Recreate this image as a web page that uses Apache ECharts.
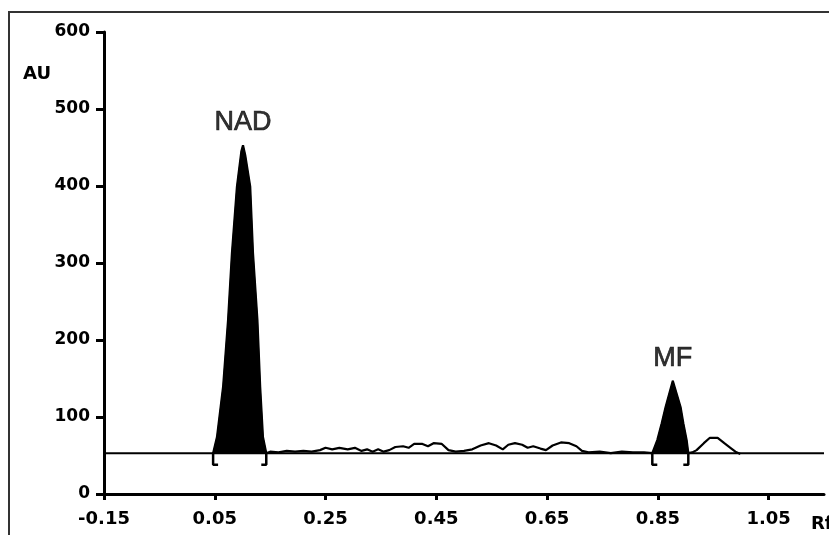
<!DOCTYPE html>
<html><head><meta charset="utf-8">
<script src="https://cdn.jsdelivr.net/npm/echarts@6/dist/echarts.min.js"></script>
<style>html,body{margin:0;padding:0;background:#fff}#c{width:829px;height:535px}</style>
</head><body><div id="c"></div>
<script>
// ---- data ----
const xTickValues = [-0.15, 0.05, 0.25, 0.45, 0.65, 0.85, 1.05];
const yTickValues = [0, 100, 200, 300, 400, 500, 600];
const baselineAU = 53;
const baselineRf = [-0.15, 1.15];

const nadRf = [0.047, 0.054, 0.065, 0.074, 0.081, 0.090, 0.098, 0.101, 0.105, 0.114, 0.119, 0.127, 0.132, 0.137, 0.143];
const nadAU = [53, 74, 139, 226, 313, 399, 445, 453, 440, 399, 313, 226, 139, 74, 53];

const noiseRf = [0.150, 0.165, 0.180, 0.195, 0.210, 0.225, 0.240, 0.250, 0.262, 0.275, 0.290, 0.303, 0.315, 0.325, 0.335, 0.345, 0.355, 0.365, 0.376, 0.390, 0.400, 0.410, 0.425, 0.435, 0.445, 0.460, 0.472, 0.485, 0.500, 0.515, 0.530, 0.545, 0.558, 0.570, 0.580, 0.592, 0.605, 0.615, 0.625, 0.638, 0.648, 0.660, 0.675, 0.690, 0.703, 0.713, 0.725, 0.745, 0.765, 0.785, 0.805, 0.825];
const noiseAU = [55, 54, 56, 55, 56, 55, 57, 60, 58, 60, 58, 60, 56, 58, 55, 58, 55, 57, 61, 62, 60, 65, 65, 62, 66, 65, 57, 55, 56, 58, 63, 66, 63, 58, 64, 66, 64, 60, 62, 59, 57, 63, 67, 66, 62, 56, 54, 55, 53, 55, 54, 54];

const mfRf = [0.840, 0.849, 0.857, 0.864, 0.877, 0.891, 0.896, 0.902, 0.905];
const mfAU = [53, 70, 92, 113, 147, 113, 92, 70, 53];

const minorRf = [0.912, 0.920, 0.933, 0.944, 0.958, 0.970, 0.981, 0.990, 0.999];
const minorAU = [54, 57, 66, 73, 73, 66, 60, 55, 52];

const peakNames = ['NAD', 'MF'];

// ---- build ----
const zip = (a, b) => a.map((v, i) => [v, b[i]]);
const traceData = zip(nadRf.concat(noiseRf, mfRf, minorRf), nadAU.concat(noiseAU, mfAU, minorAU));
function apex(rf, au) { let k = 0; au.forEach((v, i) => { if (v > au[k]) k = i; }); return [rf[k], au[k]]; }
const peaks = [apex(nadRf, nadAU), apex(mfRf, mfAU)];
const bracketLow = 38, foot = 0.009;
function bracket(rf, dir) { return [[rf, baselineAU], [rf, bracketLow], [rf + dir * foot, bracketLow]]; }
const brackets = [
  bracket(nadRf[0], 1), bracket(nadRf[nadRf.length - 1], -1),
  bracket(mfRf[0], 1), bracket(mfRf[mfRf.length - 1], -1)
];

const tickFont = { fontFamily: 'DejaVu Sans', fontWeight: 'bold', fontSize: 17, color: '#000' };
const series = [
  { type: 'line', data: baselineRf.map(r => [r, baselineAU]), symbol: 'none', lineStyle: { color: '#000', width: 2 }, silent: true, z: 2 },
  { type: 'line', data: zip(nadRf, nadAU), symbol: 'none', lineStyle: { color: '#000', width: 1 }, areaStyle: { color: '#000', opacity: 1, origin: baselineAU }, z: 3 },
  { type: 'line', data: zip(mfRf, mfAU), symbol: 'none', lineStyle: { color: '#000', width: 1 }, areaStyle: { color: '#000', opacity: 1, origin: baselineAU }, z: 3 },
  { type: 'line', data: traceData, symbol: 'none', lineStyle: { color: '#000', width: 2.2 }, z: 4 },
  { type: 'scatter', data: peaks.map((p, i) => ({ value: p, name: peakNames[i] })), symbolSize: 0,
    label: { show: true, position: 'top', distance: 9, formatter: p => p.name, fontFamily: 'Liberation Sans', fontSize: 27,
      color: '#000', textBorderColor: '#000', textBorderWidth: 0.7 }, z: 5 }
].concat(brackets.map(b => ({ type: 'line', data: b, symbol: 'none', lineStyle: { color: '#000', width: 2.5 }, z: 4 })));

const chart = echarts.init(document.getElementById('c'), null, { renderer: 'canvas' });
chart.setOption({
  animation: false,
  backgroundColor: '#fff',
  grid: { left: 104, right: 5, top: 32, bottom: 41, containLabel: false },
  xAxis: {
    type: 'value', min: -0.15, max: 1.15,
    axisLine: { show: true, onZero: false, lineStyle: { color: '#000', width: 3 } },
    axisTick: { show: true, length: 6, customValues: xTickValues, lineStyle: { color: '#000', width: 3 } },
    axisLabel: Object.assign({ customValues: xTickValues, margin: 16, formatter: v => v.toFixed(2) }, tickFont, { fontSize: 18 }),
    splitLine: { show: false }
  },
  yAxis: {
    type: 'value', min: 0, max: 600, interval: 100,
    axisLine: { show: true, onZero: false, lineStyle: { color: '#000', width: 3 } },
    axisTick: { show: true, length: 8, customValues: yTickValues, lineStyle: { color: '#000', width: 3 } },
    axisLabel: Object.assign({ customValues: yTickValues, margin: 14 }, tickFont),
    splitLine: { show: false }
  },
  graphic: [
    { type: 'rect', shape: { x: 9, y: 12, width: 840, height: 540 }, style: { fill: null, stroke: '#333', lineWidth: 2 }, silent: true },
    { type: 'text', left: 23, top: 65, style: { text: 'AU', font: 'bold 18px "DejaVu Sans"', fill: '#000' } },
    { type: 'text', left: 811, top: 515, style: { text: 'Rf', font: 'bold 18px "DejaVu Sans"', fill: '#000' } }
  ],
  series: series
});
</script></body></html>
